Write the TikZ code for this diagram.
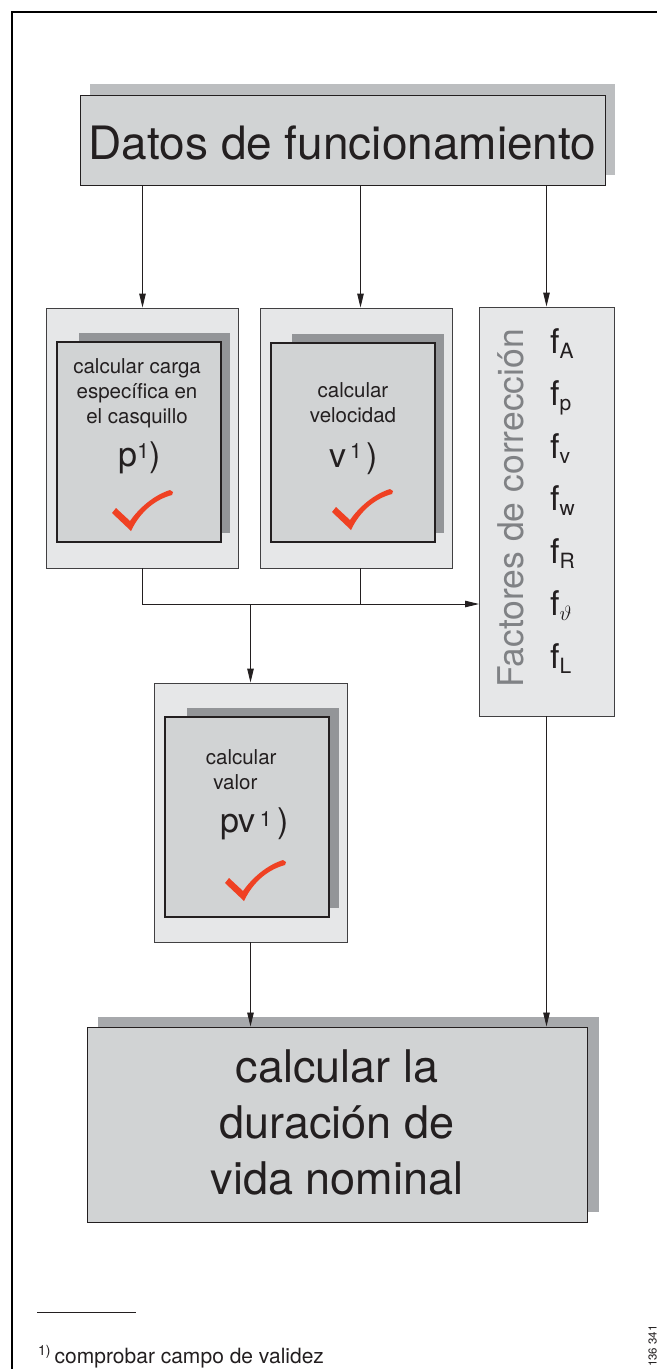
\documentclass[tikz,border=0pt]{standalone}
\usepackage{fontspec}
\setmainfont{TeX Gyre Heros}
\usetikzlibrary{arrows.meta}
\definecolor{textc}{HTML}{231F20}
\definecolor{outerfill}{HTML}{E6E7E8}
\definecolor{innerfill}{HTML}{D1D3D4}
\definecolor{shadowdark}{HTML}{939598}
\definecolor{shadowlight}{HTML}{BCBEC0}
\definecolor{shadowmid}{HTML}{A7A9AC}
\definecolor{checkred}{HTML}{EF4123}
\definecolor{labelgray}{HTML}{808285}
\definecolor{linec}{HTML}{414042}
\newcommand{\fsub}[1]{\raisebox{-5pt}{\fontsize{21}{21}\selectfont #1}}
\newcommand{\supone}[1][8pt]{\raisebox{#1}{\fontsize{21}{21}\selectfont 1}}
\tikzset{
  outerbox/.style={draw=linec, line width=0.9pt, fill=outerfill},
  innerbox/.style={draw=textc, line width=1.5pt, fill=innerfill},
  bigbox/.style={draw=textc, line width=1pt, fill=innerfill},
  smalltext/.style={font=\fontsize{20.5}{25}\selectfont},
  bigtext/.style={font=\fontsize{34}{34}\selectfont},
  ftext/.style={font=\fontsize{34}{34}\selectfont},
  arr/.style={draw=textc, line width=0.9pt, -{Triangle[length=14pt,width=6.5pt]}},
  conn/.style={draw=textc, line width=0.9pt},
  checkmark/.pic={\fill[checkred] (-17,-17) -- (-13,-22) -- (1,-9)
      .. controls (10,-22) and (25,-35) .. (41,-40) -- (44,-38) -- (43,-35)
      .. controls (28,-31) and (12,-20) .. (2,1) -- cycle;}
}
\begin{document}
\begin{tikzpicture}[x=1pt, y=-1pt, every node/.style={text=textc, inner sep=0pt}]
\useasboundingbox (0,0) rectangle (657,1369);
% frame
\draw[line width=2.6pt, black] (12,1369) -- (12,12) -- (657,12);

% top box
\fill[shadowlight] (90,84) rectangle (615,175);
\node[bigbox, minimum width=525pt, minimum height=90pt] (top) at (342.5,140) {};
\node[font=\fontsize{46}{46}\selectfont, anchor=base] (toptext) at (342.5,159) {Datos de funcionamiento};

% left box
\node[outerbox, minimum width=192pt, minimum height=260pt] (L) at (142.5,438) {};
\fill[shadowdark] (79,333) rectangle (230,533);
\node[innerbox, minimum width=164pt, minimum height=200pt] (Li) at (139,442) {};
\node[smalltext, align=center, anchor=north] (Lt) at (137,358.3) {calcular carga\\específica en\\el casquillo};
\node[bigtext, anchor=base] (Lp) at (139.5,466) {p\supone)};
\pic at (129,530) {checkmark};

% middle box
\node[outerbox, minimum width=192pt, minimum height=260pt] (M) at (356,438) {};
\fill[shadowdark] (292,334) rectangle (444,533);
\node[innerbox, minimum width=164pt, minimum height=199pt] (Mi) at (353,442.5) {};
\node[smalltext, align=center, anchor=north] (Mt) at (353,382.3) {calcular\\velocidad};
\node[bigtext, anchor=base] (Mv) at (353.5,467) {v\hspace{4pt}\supone[9pt]\hspace{5pt})};
\pic at (349,529) {checkmark};

% factors box
\node[outerbox, minimum width=135pt, minimum height=409pt] (F) at (546.5,511.5) {};
\node[rotate=90, anchor=base west, font=\fontsize{35.5}{35.5}\selectfont, text=labelgray] (Ft) at (523,688) {Factores de corrección};
\foreach \s [count=\i] in {A,p,v,w,R,{$\vartheta$},L}
  \node[ftext, anchor=base west] (f\i) at (550,{353+52.5*(\i-1)}) {f\fsub{\s}};

% pv box
\node[outerbox, minimum width=193pt, minimum height=259pt] (PV) at (250.5,812.5) {};
\fill[shadowdark] (187,708) rectangle (339,908);
\node[innerbox, minimum width=164pt, minimum height=200pt] (PVi) at (247,817) {};
\node[smalltext, align=left, anchor=north west] (PVt) at (205.7,749.6) {calcular\\\hspace*{7.5pt}valor};
\node[bigtext, anchor=base] (PVv) at (254.5,832) {pv\hspace{4pt}\supone[6pt]\hspace{6pt})};
\pic at (242,900) {checkmark};

% bottom box
\fill[shadowmid] (98,1017) rectangle (599,1212);
\node[bigbox, minimum width=500pt, minimum height=195pt] (B) at (337,1124.5) {};
\node[font=\fontsize{45}{56}\selectfont, align=center, anchor=north] (Bt) at (337,1049.7) {calcular la\\duración de\\vida nominal};

% connectors
\coordinate (xm) at (360.5,0);
\coordinate (fin) at (479,604);
\draw[arr] (top.south -| L.north) -- (L.north);
\draw[arr] (top.south -| xm) -- (xm |- M.north);
\draw[arr] (top.south -| F.north) -- (F.north);
\draw[arr] (L.south) |- (fin);
\draw[conn] (xm |- M.south) -- (xm |- fin);
\draw[arr] (PV.north |- fin) -- (PV.north);
\draw[arr] (PV.south) -- (PV.south |- B.north);
\draw[arr] (F.south) -- (F.south |- B.north);

% footnote
\draw[conn, line width=0.8pt] (37,1312) -- (136,1312);
\node[anchor=base west, font=\fontsize{21}{21}\selectfont] (fn) at (38,1363) {\raisebox{8pt}{\fontsize{14}{14}\selectfont 1)}\hspace{4pt}comprobar campo de validez};
\node[rotate=90, anchor=base west, font=\fontsize{11.5}{11.5}\selectfont] (id) at (656.5,1367) {136 341};
\end{tikzpicture}
\end{document}
